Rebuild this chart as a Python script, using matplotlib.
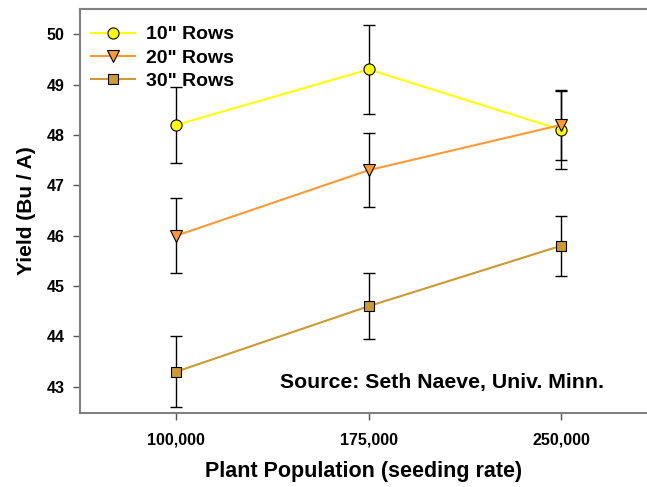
import matplotlib
matplotlib.use("Agg")
import matplotlib.pyplot as plt
import numpy as np

plt.rcParams['font.family'] = ['Liberation Sans', 'DejaVu Sans']

populations = ["100,000", "175,000", "250,000"]
series_names = ['10" Rows', '20" Rows', '30" Rows']
yield_10 = [48.2, 49.3, 48.1]
yield_20 = [46.0, 47.3, 48.2]
yield_30 = [43.3, 44.6, 45.8]
err_10 = [0.75, 0.88, 0.78]
err_20 = [0.74, 0.73, 0.70]
err_30 = [0.70, 0.65, 0.60]

colors = ["#FFFF00", "#FF9933", "#CC9933"]
markers = ["o", "v", "s"]
msizes = [8, 8, 7]

fig = plt.figure(figsize=(6.47, 4.87), dpi=100)
ax = fig.add_axes([80 / 647, 1 - 413 / 487, 1 - 80 / 647, (413 - 9) / 487])

x = np.arange(len(populations))
for vals, errs, name, c, m, ms in zip([yield_10, yield_20, yield_30],
                                       [err_10, err_20, err_30],
                                       series_names, colors, markers, msizes):
    ax.errorbar(x, vals, yerr=errs, fmt="none", ecolor="black", elinewidth=1,
                capsize=4, capthick=1, zorder=2)
    ax.plot(x, vals, color=c, lw=1.5, marker=m, ms=ms, mfc=c, mec="black",
            mew=0.8, label=name, zorder=3)

ax.set_xlim(-0.5, 2.447)
ax.set_ylim(42.48, 50.5)
ax.set_xticks(x)
ax.set_xticklabels(populations, fontweight="bold", fontsize=11.5)
ax.set_yticks(range(43, 51))
ax.set_yticklabels([str(v) for v in range(43, 51)], fontweight="bold", fontsize=11.5)
ax.tick_params(axis="both", direction="out", length=5, width=1, color="#555555")
ax.tick_params(axis="y", pad=6)
ax.tick_params(axis="x", pad=9)

for side in ["left", "bottom", "top"]:
    ax.spines[side].set_color("#808080")
    ax.spines[side].set_linewidth(1.5)
ax.spines["right"].set_visible(False)

ax.set_xlabel("Plant Population (seeding rate)", fontsize=15.5, fontweight="bold",
              labelpad=10)
ax.set_ylabel("Yield (Bu / A)", fontsize=15, fontweight="bold", labelpad=8)

ax.text(0.54, 43.08, "Source: Seth Naeve, Univ. Minn.", fontsize=15.3,
        fontweight="bold", ha="left", va="center")

leg = ax.legend(loc="upper left", frameon=False,
                prop={"weight": "bold", "size": 14}, handlelength=2.3,
                borderaxespad=0.15, labelspacing=0.3, handletextpad=0.55,
                bbox_to_anchor=(0.0, 0.985))

fig.savefig("out.png", dpi=100)
